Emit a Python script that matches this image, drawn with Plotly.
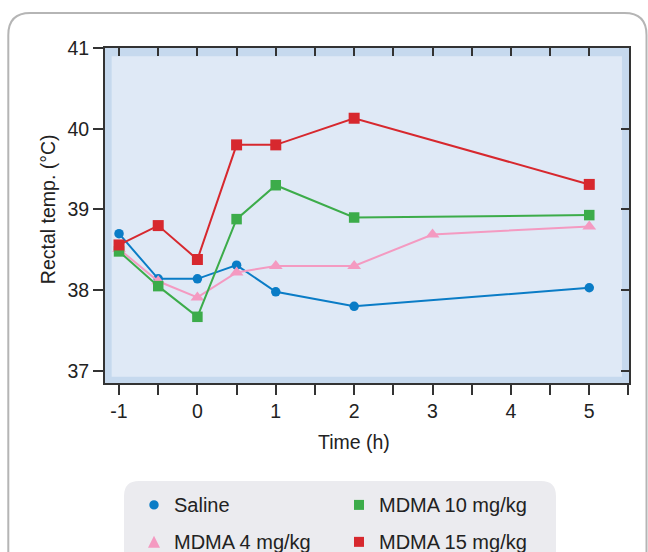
import plotly.graph_objects as go

# ---- data ----
saline_t = [-1, -0.5, 0, 0.5, 1, 2, 5]
saline_v = [38.70, 38.14, 38.14, 38.31, 37.98, 37.80, 38.03]

mdma4_t = [-1, -0.5, 0, 0.5, 1, 2, 3, 5]
mdma4_v = [38.51, 38.11, 37.91, 38.22, 38.30, 38.30, 38.69, 38.79]

mdma10_t = [-1, -0.5, 0, 0.5, 1, 2, 5]
mdma10_v = [38.48, 38.05, 37.67, 38.88, 39.30, 38.90, 38.93]

mdma15_t = [-1, -0.5, 0, 0.5, 1, 2, 5]
mdma15_v = [38.56, 38.80, 38.38, 39.80, 39.80, 40.13, 39.31]

x_ticks = [-1, 0, 1, 2, 3, 4, 5]
y_ticks = [37, 38, 39, 40, 41]

# ---- layout constants (pixels) ----
W, H = 648, 552
L, R, T, B = 105, 629, 47.7, 383
PW, PH = R - L, B - T
FONT = "Liberation Sans, Arial, sans-serif"
TXT = "#222222"
FS = 19.5

BLUE, PINK, GREEN, RED = "#0a7cc6", "#f49ac1", "#3cac4a", "#d7282e"


def px(x):
    return (x - L) / PW


def py(y):
    return (B - y) / PH


def rounded(x0, y0, x1, y1, r):
    a, b, c, d = px(x0), py(y0), px(x1), py(y1)
    rx, ry = r / PW, r / PH
    return (f"M {a+rx},{b} L {c-rx},{b} Q {c},{b} {c},{b-ry} "
            f"L {c},{d+ry} Q {c},{d} {c-rx},{d} L {a+rx},{d} "
            f"Q {a},{d} {a},{d+ry} L {a},{b-ry} Q {a},{b} {a+rx},{b} Z")


fig = go.Figure()

series = [
    ("Saline", saline_t, saline_v, BLUE, "circle", 9.5),
    ("MDMA 4 mg/kg", mdma4_t, mdma4_v, PINK, "triangle-up", 12),
    ("MDMA 10 mg/kg", mdma10_t, mdma10_v, GREEN, "square", 10.5),
    ("MDMA 15 mg/kg", mdma15_t, mdma15_v, RED, "square", 11),
]
for name, t, v, col, sym, sz in series:
    fig.add_trace(go.Scatter(
        x=t, y=v, name=name, mode="lines+markers",
        line=dict(color=col, width=2),
        marker=dict(color=col, symbol=sym, size=sz),
        showlegend=False, cliponaxis=False,
    ))

# dummy trace for mirrored inside-tick axes
fig.add_trace(go.Scatter(x=[None], y=[None], xaxis="x2", yaxis="y2",
                         showlegend=False, hoverinfo="skip"))

# custom legend
leg_items = [
    ("Saline", BLUE, "circle", 154, 505),
    ("MDMA 10 mg/kg", GREEN, "square", 359, 505),
    ("MDMA 4 mg/kg", PINK, "triangle", 154, 542),
    ("MDMA 15 mg/kg", RED, "square", 359, 542),
]

annotations = []
shapes = [
    # outer card
    dict(type="path", path=rounded(8.3, 12.7, 646.5, 640, 22),
         xref="paper", yref="paper", line=dict(color="#b5b5b5", width=2),
         fillcolor="rgba(0,0,0,0)", layer="below"),
    # legend box
    dict(type="path", path=rounded(124, 481, 556, 640, 15),
         xref="paper", yref="paper", line=dict(width=0),
         fillcolor="#ebebef", layer="below"),
    # inner lighter plot area
    dict(type="rect", xref="x", yref="y", x0=-1.094, x1=5.417,
         y0=36.926, y1=40.897, line=dict(width=0),
         fillcolor="#dfe9f6", layer="below"),
]

for name, col, sym, xx, yy in leg_items:
    annotations.append(dict(
        text=name, x=px(xx + 18), y=py(yy), xref="paper", yref="paper",
        xanchor="left", yanchor="middle", showarrow=False,
        font=dict(family=FONT, size=20, color=TXT)))
    if sym == "circle":
        shapes.append(dict(type="circle", xref="paper", yref="paper",
                           x0=px(xx - 4.7), x1=px(xx + 4.7),
                           y0=py(yy + 4.7), y1=py(yy - 4.7),
                           fillcolor=col, line=dict(width=0)))
    elif sym == "square":
        shapes.append(dict(type="rect", xref="paper", yref="paper",
                           x0=px(xx - 5), x1=px(xx + 5),
                           y0=py(yy + 5), y1=py(yy - 5),
                           fillcolor=col, line=dict(width=0)))
    else:
        shapes.append(dict(type="path", xref="paper", yref="paper",
                           path=(f"M {px(xx-6)},{py(yy+6)} L {px(xx+6)},{py(yy+6)} "
                                 f"L {px(xx)},{py(yy-6)} Z"),
                           fillcolor=col, line=dict(width=0)))

annotations.append(dict(
    text="Time (h)", x=2, y=py(442), xref="x", yref="paper",
    xanchor="center", yanchor="middle", showarrow=False,
    font=dict(family=FONT, size=FS, color=TXT)))
annotations.append(dict(
    text="Rectal temp. (°C)", x=px(48), y=py(209), xref="paper", yref="paper",
    xanchor="center", yanchor="middle", showarrow=False, textangle=-90,
    font=dict(family=FONT, size=FS, color=TXT)))

xr = [-1.179, 5.507]
yr = [36.85, 41]

fig.update_layout(
    width=W, height=H, autosize=False,
    margin=dict(l=L, r=W - R, t=T, b=H - B, pad=0),
    paper_bgcolor="white", plot_bgcolor="#c6d9ee",
    font=dict(family=FONT, size=FS, color=TXT),
    showlegend=False,
    xaxis=dict(range=xr, tickvals=x_ticks, ticktext=[str(v) for v in x_ticks],
               ticks="outside", ticklen=10, tickwidth=1.5, tickcolor="#333",
               minor=dict(dtick=0.5, tick0=0, ticks="outside", ticklen=10,
                          tickwidth=1.5, tickcolor="#333"),
               showline=True, linecolor="#333", linewidth=2,
               showgrid=False, zeroline=False, fixedrange=True,
               tickfont=dict(family=FONT, size=FS, color=TXT)),
    yaxis=dict(range=yr, tickvals=y_ticks, ticks="outside", ticklen=10,
               tickwidth=1.5, tickcolor="#333",
               showline=True, linecolor="#333", linewidth=2,
               showgrid=False, zeroline=False, fixedrange=True,
               tickfont=dict(family=FONT, size=FS, color=TXT)),
    xaxis2=dict(range=xr, overlaying="x", side="top", anchor="y2",
                dtick=0.5, tick0=0, ticks="inside", ticklen=8, tickwidth=1.5,
                tickcolor="#333", showticklabels=False, showline=True,
                linecolor="#333", linewidth=2, showgrid=False, zeroline=False),
    yaxis2=dict(range=yr, overlaying="y", side="right", anchor="x2",
                tickvals=y_ticks, ticks="inside", ticklen=8, tickwidth=1.5,
                tickcolor="#333", showticklabels=False, showline=True,
                linecolor="#333", linewidth=2, showgrid=False, zeroline=False),
    annotations=annotations,
    shapes=shapes,
)

fig.write_html("out.html", config={"displayModeBar": False},
               post_script="document.body.style.margin='0';document.body.style.overflow='hidden';")
